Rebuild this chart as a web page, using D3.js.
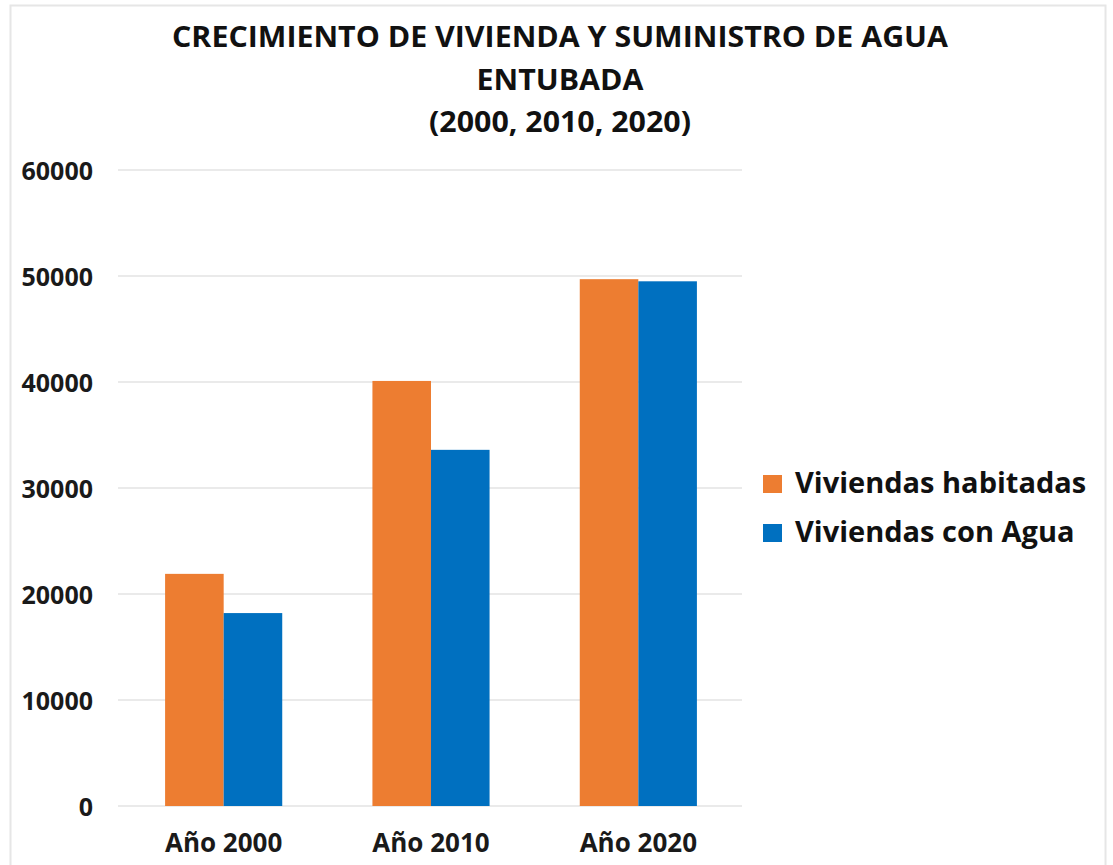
<!DOCTYPE html>
<html><head><meta charset="utf-8">
<script src="https://cdn.jsdelivr.net/npm/d3@7"></script>
<style>body{margin:0;background:#fff}svg{display:block}</style>
</head><body>
<svg id="c" width="1113" height="865"></svg>
<script>
const categories = ["Año 2000", "Año 2010", "Año 2020"];
const seriesNames = ["Viviendas habitadas", "Viviendas con Agua"];
const habitadas = [21900, 40100, 49700];
const conAgua = [18200, 33600, 49500];
const yTicks = [0, 10000, 20000, 30000, 40000, 50000, 60000];
const titleLines = ["CRECIMIENTO DE VIVIENDA Y SUMINISTRO DE AGUA", "ENTUBADA", "(2000, 2010, 2020)"];
const colors = ["#ED7D31", "#0070C0"];

(function(){
const svg = d3.select("#c");
svg.append("rect").attr("x",10.5).attr("y",5.5).attr("width",1095).attr("height",870)
  .attr("fill","#fff").attr("stroke","#e6e6e6").attr("stroke-width",2);

const pL = 120, pR = 742, pT = 170, pB = 806;
const x0 = d3.scaleBand().domain(categories).range([pL, pR]).paddingInner(0.435).paddingOuter(0.2175);
const x1 = d3.scaleBand().domain(seriesNames).range([0, x0.bandwidth()]);
const y = d3.scaleLinear().domain([0, 60000]).range([pB, pT]);

const font = "'Open Sans',sans-serif";
const tY = [47, 90, 132];
const tNodes = titleLines.map((t,i)=>
  svg.append("text").attr("x",560).attr("y",tY[i]).attr("text-anchor","middle")
    .attr("font-family",font).attr("font-weight","bold").attr("font-size",28).attr("fill","#111")
    .text(t));
const k = 776 / tNodes[0].node().getComputedTextLength();
tNodes.forEach(n=>{
  const w = n.node().getComputedTextLength();
  n.attr("textLength", w*k).attr("lengthAdjust","spacingAndGlyphs");
});

svg.append("g").selectAll("line").data(yTicks).join("line")
  .attr("x1",pL-2).attr("x2",pR).attr("y1",d=>y(d)).attr("y2",d=>y(d))
  .attr("stroke","#e3e3e3").attr("stroke-width",1.5);

const ya = svg.append("g").attr("transform",`translate(93,0)`)
  .call(d3.axisLeft(y).tickValues(yTicks).tickSize(0).tickPadding(0).tickFormat(d3.format("d")));
ya.select(".domain").remove();
ya.selectAll("text").attr("font-family",font).attr("font-weight","bold")
  .attr("font-size",25).attr("fill","#1a1a1a").attr("dy","0.36em");

const data = categories.map((c,i)=>({c, vals:[habitadas[i], conAgua[i]]}));
const g = svg.append("g").selectAll("g").data(data).join("g")
  .attr("transform",d=>`translate(${x0(d.c)},0)`);
g.selectAll("rect").data(d=>d.vals.map((v,j)=>({v,s:seriesNames[j],j}))).join("rect")
  .attr("x",d=>x1(d.s)).attr("width",x1.bandwidth()).attr("y",d=>y(d.v))
  .attr("height",d=>y(0)-y(d.v)).attr("fill",d=>colors[d.j]);

const xa = svg.append("g").attr("transform",`translate(0,${pB})`)
  .call(d3.axisBottom(x0).tickSize(0).tickPadding(0));
xa.select(".domain").remove();
xa.selectAll("text").attr("font-family",font).attr("font-weight","bold")
  .attr("font-size",26).attr("fill","#1a1a1a").attr("y",46).attr("dy",0);

const lg = svg.append("g").selectAll("g").data(seriesNames).join("g")
  .attr("transform",(d,i)=>`translate(763,${475+i*49})`);
lg.append("rect").attr("width",19).attr("height",18).attr("fill",(d,i)=>colors[i]);
lg.append("text").attr("x",32).attr("y",18).attr("font-family",font)
  .attr("font-weight","bold").attr("font-size",29).attr("fill","#111").text(d=>d);
})();
</script>
</body></html>
